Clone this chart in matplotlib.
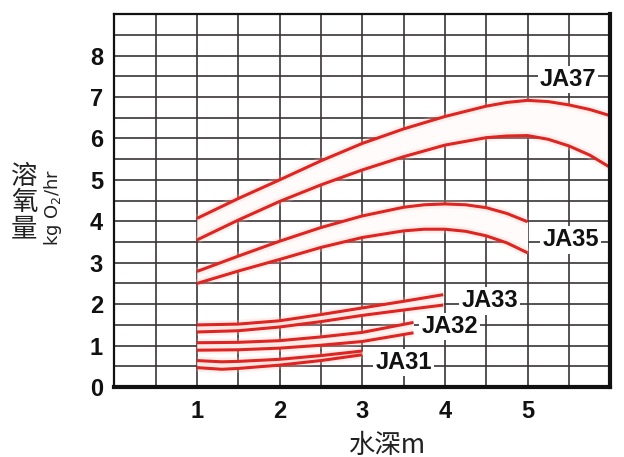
import numpy as np
import matplotlib.pyplot as plt
from matplotlib.ticker import MultipleLocator

# depth (m) and dissolved oxygen (kg O2/hr)
ja37_x = [1, 1.5, 2, 2.5, 3, 3.5, 4, 4.5, 4.75, 5, 5.25, 5.5, 5.75, 6]
ja37_hi = [4.07, 4.55, 5.0, 5.46, 5.88, 6.23, 6.53, 6.78, 6.87, 6.92, 6.89, 6.81, 6.70, 6.55]
ja37_lo = [3.55, 4.03, 4.48, 4.88, 5.24, 5.56, 5.84, 6.02, 6.06, 6.07, 5.98, 5.82, 5.60, 5.30]

ja35_x = [1, 1.5, 2, 2.5, 3, 3.5, 3.75, 4, 4.25, 4.5, 4.75, 5]
ja35_hi = [2.79, 3.16, 3.52, 3.85, 4.13, 4.34, 4.40, 4.42, 4.40, 4.33, 4.19, 3.99]
ja35_lo = [2.50, 2.80, 3.08, 3.37, 3.61, 3.77, 3.81, 3.81, 3.76, 3.65, 3.48, 3.24]

ja33_x = [1, 1.5, 2, 2.5, 3, 3.5, 3.98]
ja33_hi = [1.50, 1.52, 1.60, 1.75, 1.91, 2.07, 2.23]
ja33_lo = [1.33, 1.36, 1.45, 1.58, 1.73, 1.86, 1.98]

ja32_x = [1, 1.5, 2, 2.5, 3, 3.62]
ja32_hi = [1.07, 1.08, 1.12, 1.21, 1.32, 1.56]
ja32_lo = [0.89, 0.90, 0.94, 1.01, 1.10, 1.31]

ja31_x = [1, 1.3, 1.5, 2, 2.5, 3]
ja31_hi = [0.64, 0.61, 0.62, 0.67, 0.76, 0.87]
ja31_lo = [0.47, 0.43, 0.45, 0.53, 0.64, 0.78]

labels = ['JA37', 'JA35', 'JA33', 'JA32', 'JA31']
label_x = [5.49, 5.52, 4.54, 4.06, 3.50]
label_y = [7.42, 3.55, 2.08, 1.47, 0.60]

x_ticks = [1, 2, 3, 4, 5]
y_ticks = [0, 1, 2, 3, 4, 5, 6, 7, 8]

red = '#e3231f'
grid_col = '#3a3536'
ink = '#111111'

fig = plt.figure(figsize=(6.24, 4.57), dpi=100)
ax = fig.add_axes([0.183, 0.153, 0.795, 0.816])
ax.set_xlim(0, 6)
ax.set_ylim(0, 9)

ax.xaxis.set_minor_locator(MultipleLocator(0.5))
ax.yaxis.set_minor_locator(MultipleLocator(0.5))
ax.set_xticks(x_ticks)
ax.set_yticks(y_ticks)
ax.grid(which='both', color=grid_col, lw=1.2)
ax.set_axisbelow(True)
ax.tick_params(which='both', length=0)
ax.tick_params(axis='x', pad=9)
ax.tick_params(axis='y', pad=8)
for lab in ax.get_xticklabels() + ax.get_yticklabels():
    lab.set_family('Liberation Sans')
    lab.set_fontweight('bold')
    lab.set_fontsize(17)
    lab.set_color(ink)

for side, w in [('left', 1.6), ('top', 1.6), ('right', 3.0), ('bottom', 3.0)]:
    ax.spines[side].set_linewidth(w)
    ax.spines[side].set_color(ink)
    ax.spines[side].set_zorder(5)

pairs = [(ja37_x, ja37_hi, ja37_lo), (ja35_x, ja35_hi, ja35_lo),
         (ja33_x, ja33_hi, ja33_lo), (ja32_x, ja32_hi, ja32_lo),
         (ja31_x, ja31_hi, ja31_lo)]
for xs, hi, lo in pairs:
    ax.fill_between(xs, lo, hi, color='#fffbfa', lw=0, zorder=2)
    for ys in (hi, lo):
        ax.plot(xs, ys, color='#f7c9bf', lw=6, alpha=0.25, zorder=2,
                solid_capstyle='butt', solid_joinstyle='round')
        ax.plot(xs, ys, color=red, lw=2.2, zorder=3, solid_capstyle='butt',
                solid_joinstyle='round')

for t, lx, ly in zip(labels, label_x, label_y):
    ax.text(lx, ly, t, ha='center', va='center', family='Liberation Sans',
            fontweight='bold', fontsize=17, color=ink, zorder=4,
            bbox=dict(facecolor='white', edgecolor='none', pad=1.5))

cjk = ['Noto Sans CJK TC', 'DejaVu Sans']
for ch, py in zip('溶氧量', [177, 203, 229]):
    fig.text(24 / 624, 1 - py / 457, ch, ha='center', va='center',
             family=cjk, fontsize=19, color='#222222')
fig.text(53 / 624, 1 - 207 / 457, 'kg O$_2$/hr', ha='center', va='center',
         rotation=90, fontsize=13, color='#222222')
fig.text(387 / 624, 1 - 445 / 457, '水深m', ha='center', va='center',
         family=cjk, fontsize=19, color='#222222')

fig.savefig('out.png', dpi=100)
